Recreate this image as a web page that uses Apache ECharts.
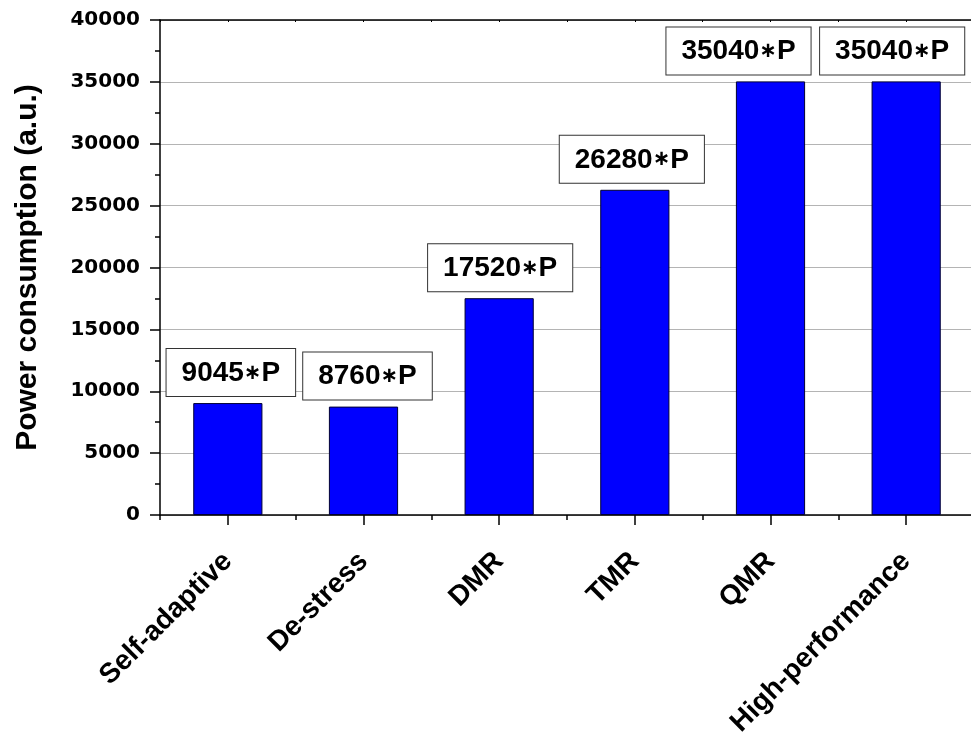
<!DOCTYPE html>
<html>
<head>
<meta charset="utf-8">
<script src="https://cdn.jsdelivr.net/npm/echarts@6/dist/echarts.min.js"></script>
<style>
html,body{margin:0;padding:0;background:#fff;}
#chart{width:971px;height:735px;}
</style>
</head>
<body>
<div id="chart"></div>
<script>
const categories = ['Self-adaptive', 'De-stress', 'DMR', 'TMR', 'QMR', 'High-performance'];
const powerValues = [9045, 8760, 17520, 26280, 35040, 35040];
const labelStar = '\u2217';
const labelUnit = 'P';
const yTicks = { min: 0, max: 40000, interval: 5000 };
const yAxisTitle = 'Power consumption (a.u.)';

// style-only: horizontal nudges of value boxes (as in the reference)
const boxNudge = [3, 4, 1, -3, -32, -14];

const chart = echarts.init(document.getElementById('chart'), null, { renderer: 'canvas' });
const fontArial = '"Liberation Sans", Arial, sans-serif';

const seriesData = powerValues.map((v, i) => ({
  value: v,
  label: { offset: [boxNudge[i], 0] }
}));

const option = {
  animation: false,
  backgroundColor: '#ffffff',
  grid: { left: 160, right: -3, top: 20, bottom: 220, containLabel: false, outerBoundsMode: 'none' },
  xAxis: [
    {
      type: 'category', data: categories, position: 'bottom', offset: 0,
      axisLine: { show: true, onZero: false, lineStyle: { color: '#000', width: 1.5 } },
      axisTick: { show: true, alignWithLabel: true, length: 10, lineStyle: { color: '#000', width: 1.5 } },
      axisLabel: {
        rotate: 45, margin: 42, verticalAlign: 'middle',
        fontFamily: fontArial, fontWeight: 'bold', fontSize: 28, color: '#000'
      },
      splitLine: { show: false }
    },
    {
      type: 'category', data: categories, position: 'bottom', offset: 0, gridIndex: 0,
      axisLine: { show: false },
      axisTick: { show: true, alignWithLabel: false, length: 5, lineStyle: { color: '#000', width: 1.5 } },
      axisLabel: { show: false },
      splitLine: { show: false }
    },
    {
      type: 'category', data: categories, position: 'top', offset: 0,
      axisLine: { show: true, lineStyle: { color: '#000', width: 1.5 } },
      axisTick: { show: true, inside: true, alignWithLabel: true, length: 2, lineStyle: { color: '#000', width: 1 } },
      axisLabel: { show: false },
      splitLine: { show: false }
    },
    {
      type: 'category', data: categories, position: 'top', offset: 0,
      axisLine: { show: false },
      axisTick: { show: true, inside: true, alignWithLabel: false, length: 2, lineStyle: { color: '#000', width: 1 } },
      axisLabel: { show: false },
      splitLine: { show: false }
    }
  ],
  yAxis: {
    type: 'value', min: yTicks.min, max: yTicks.max, interval: yTicks.interval,
    name: yAxisTitle, nameLocation: 'middle', nameGap: 117, nameRotate: 90,
    nameTextStyle: { fontFamily: fontArial, fontWeight: 'bold', fontSize: 30, color: '#000' },
    axisLine: { show: true, lineStyle: { color: '#000', width: 1.5 } },
    axisTick: { show: true, length: 10, lineStyle: { color: '#000', width: 1.5 } },
    minorTick: { show: true, splitNumber: 2, length: 5, lineStyle: { color: '#000', width: 1.5 } },
    axisLabel: {
      margin: 20, formatter: v => String(v),
      fontFamily: '"DejaVu Sans", sans-serif', fontWeight: 'bold', fontSize: 20, color: '#000'
    },
    splitLine: { show: true, lineStyle: { color: '#b4b4b4', width: 1 } }
  },
  series: [
    {
      type: 'bar',
      xAxisIndex: 0,
      data: seriesData,
      barWidth: '51%',
      itemStyle: { color: '#0000ff', borderColor: '#000033', borderWidth: 1 },
      label: {
        show: true, position: 'top', distance: 7,
        formatter: p => '{v|' + p.value + '}{s|' + labelStar + '}{v|' + labelUnit + '}',
        backgroundColor: '#fff', borderColor: '#333', borderWidth: 1,
        padding: [9, 15, 8, 15],
        rich: {
          v: { fontFamily: fontArial, fontWeight: 'bold', fontSize: 28, color: '#000', lineHeight: 30 },
          s: { fontFamily: '"DejaVu Sans", sans-serif', fontWeight: 'bold', fontSize: 21, color: '#000', lineHeight: 30, padding: [0, 0, 0, 0] }
        }
      }
    }
  ]
};
chart.setOption(option);
</script>
</body>
</html>
